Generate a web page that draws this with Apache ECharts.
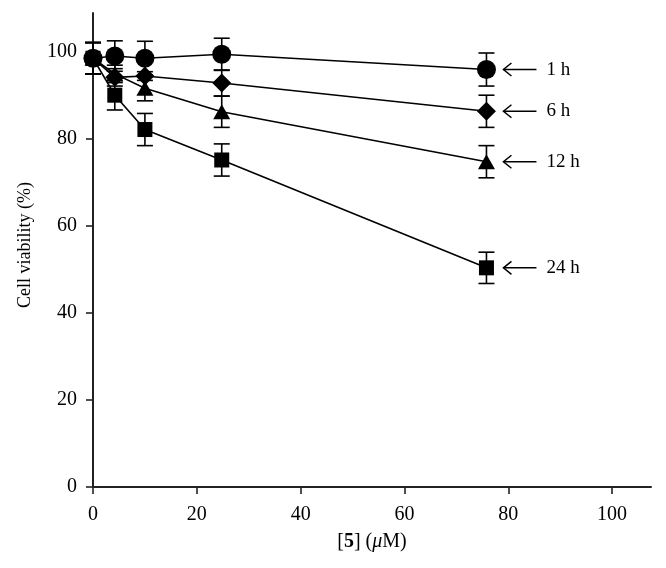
<!DOCTYPE html>
<html>
<head>
<meta charset="utf-8">
<script src="https://cdn.jsdelivr.net/npm/echarts@6/dist/echarts.min.js"></script>
<style>
html,body{margin:0;padding:0;background:#fff;}
#chart{width:666px;height:568px;}
</style>
</head>
<body>
<div id="chart"></div>
<script>
// ---- data ----
const concentrations = [0, 4.2, 10, 24.8, 75.8];
const viability1h  = [98.6, 99.1, 98.6, 99.5, 96.0];
const viability6h  = [98.6, 94.2, 94.5, 92.9, 86.4];
const viability12h = [98.6, 95.0, 91.7, 86.3, 74.8];
const viability24h = [98.6, 90.1, 82.2, 75.2, 50.4];
const err1h  = [3.6, 3.5, 3.9, 3.7, 3.8];
const err6h  = [3.6, 2.0, 1.0, 3.0, 3.7];
const err12h = [3.6, 2.0, 2.9, 3.6, 3.7];
const err24h = [3.6, 3.4, 3.7, 3.7, 3.6];
const seriesLabels = ['1 h', '6 h', '12 h', '24 h'];
const xTicks = [0, 20, 40, 60, 80, 100];
const yTicks = [0, 20, 40, 60, 80, 100];

const INK = '#000';
const FONT = '"Liberation Serif", "DejaVu Serif", serif';

function pairs(ys) { return concentrations.map((x, i) => [x, ys[i]]); }
function errData(ys, es) { return concentrations.map((x, i) => [x, ys[i], es[i]]); }

function errItem(params, api) {
  const x = api.value(0), y = api.value(1), e = api.value(2);
  const top = api.coord([x, y + e]);
  const bot = api.coord([x, y - e]);
  const hw = 8;
  const style = { stroke: INK, lineWidth: 1.6, fill: null };
  return {
    type: 'group',
    children: [
      { type: 'line', shape: { x1: top[0], y1: top[1], x2: bot[0], y2: bot[1] }, style },
      { type: 'line', shape: { x1: top[0] - hw, y1: top[1], x2: top[0] + hw, y2: top[1] }, style },
      { type: 'line', shape: { x1: bot[0] - hw, y1: bot[1], x2: bot[0] + hw, y2: bot[1] }, style }
    ]
  };
}

function arrowItem(params, api) {
  const p = api.coord([api.value(0), api.value(1)]);
  const cx = p[0], cy = p[1];
  const label = seriesLabels[params.dataIndex];
  const style = { stroke: INK, lineWidth: 1.5, fill: null };
  return {
    type: 'group',
    children: [
      { type: 'line', shape: { x1: cx + 17, y1: cy, x2: cx + 50, y2: cy }, style },
      { type: 'polyline', shape: { points: [[cx + 25, cy - 6.5], [cx + 17, cy], [cx + 25, cy + 6.5]] }, style },
      { type: 'text', style: { text: label, x: cx + 60, y: cy, fill: INK, font: '19px ' + FONT, textAlign: 'left', textVerticalAlign: 'middle' } }
    ]
  };
}

const lastIdx = concentrations.length - 1;
const arrowData = [viability1h, viability6h, viability12h, viability24h].map(s => [concentrations[lastIdx], s[lastIdx]]);

function lineSeries(name, ys, symbol, size, z) {
  return {
    name, type: 'line', data: pairs(ys), symbol, symbolSize: size,
    lineStyle: { color: INK, width: 1.6 },
    itemStyle: { color: INK, borderWidth: 0 },
    z, silent: true
  };
}
function errSeries(ys, es, z) {
  return { type: 'custom', data: errData(ys, es), renderItem: errItem, encode: { x: 0, y: 1 }, z, silent: true };
}

const chart = echarts.init(document.getElementById('chart'), null, { renderer: 'canvas' });
chart.setOption({
  animation: false,
  backgroundColor: '#fff',
  grid: { left: 93, top: 13, width: 558, height: 474, containLabel: false },
  xAxis: {
    type: 'value', min: 0, max: 107.5, interval: 20,
    axisLine: { show: true, onZero: false, lineStyle: { color: '#222', width: 2 } },
    axisTick: { show: true, length: 7, customValues: xTicks, lineStyle: { color: '#222', width: 1.6 } },
    axisLabel: { customValues: xTicks, margin: 18, color: INK, fontFamily: FONT, fontSize: 20 },
    splitLine: { show: false },
    name: '[{b|5}] ({i|μ}M)',
    nameLocation: 'middle', nameGap: 45,
    nameTextStyle: {
      color: INK, fontFamily: FONT, fontSize: 20,
      rich: {
        b: { fontWeight: 'bold', fontFamily: FONT, fontSize: 20, color: INK },
        i: { fontStyle: 'italic', fontFamily: FONT, fontSize: 20, color: INK }
      }
    }
  },
  yAxis: {
    type: 'value', min: 0, max: 109, interval: 20,
    axisLine: { show: true, onZero: false, lineStyle: { color: '#222', width: 2 } },
    axisTick: { show: true, length: 7, customValues: yTicks, lineStyle: { color: '#222', width: 1.6 } },
    axisLabel: { customValues: yTicks, margin: 16, color: INK, fontFamily: FONT, fontSize: 20 },
    splitLine: { show: false },
    name: 'Cell viability (%)',
    nameLocation: 'middle', nameGap: 59,
    nameTextStyle: { color: INK, fontFamily: FONT, fontSize: 18, padding: [0, 0, 0, 10] }
  },
  series: [
    errSeries(viability24h, err24h, 2),
    errSeries(viability12h, err12h, 2),
    errSeries(viability6h, err6h, 2),
    errSeries(viability1h, err1h, 2),
    lineSeries('24 h', viability24h, 'rect', 15, 3),
    lineSeries('12 h', viability12h, 'triangle', [17, 15], 4),
    lineSeries('6 h', viability6h, 'diamond', [19, 19], 5),
    lineSeries('1 h', viability1h, 'circle', 19, 6),
    { type: 'custom', data: arrowData, renderItem: arrowItem, encode: { x: 0, y: 1 }, z: 7, silent: true }
  ]
});
</script>
</body>
</html>
